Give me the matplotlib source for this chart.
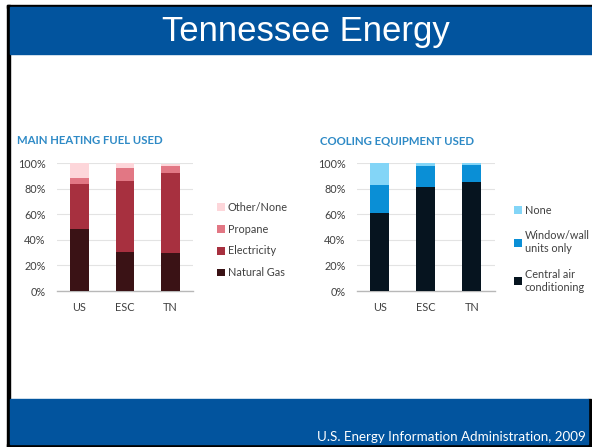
import numpy as np
import matplotlib
matplotlib.use('Agg')
import matplotlib.pyplot as plt
from matplotlib.patches import Rectangle, Patch

# regions
regions = ['US', 'ESC', 'TN']

# main heating fuel (share of homes)
heat_labels = ['Natural Gas', 'Electricity', 'Propane', 'Other/None']
natural_gas = [0.484, 0.307, 0.297]
electricity = [0.349, 0.552, 0.627]
propane = [0.050, 0.104, 0.056]
other_none = [0.117, 0.037, 0.010]
heat_colors = ['#3a1215', '#a7303f', '#e27784', '#fdd6da']

# cooling equipment
cool_labels = ['Central air\nconditioning', 'Window/wall\nunits only', 'None']
central_air = [0.612, 0.815, 0.852]
window_wall = [0.214, 0.159, 0.135]
no_cooling = [0.174, 0.026, 0.013]
cool_colors = ['#06141f', '#0a8fd6', '#83d5f7']

pct_ticks = [0, 0.2, 0.4, 0.6, 0.8, 1.0]
pct_labels = ['0%', '20%', '40%', '60%', '80%', '100%']

W, H = 592, 447
fig = plt.figure(figsize=(W / 100, H / 100), dpi=100)
fig.patch.set_facecolor('white')

BLUE = '#02549e'
# slide frame: black borders and blue header / footer bands
fig.patches.append(Rectangle((7 / W, 0), 3 / W, 1 - 5 / H, transform=fig.transFigure, color='black', zorder=0))
fig.patches.append(Rectangle((7 / W, 1 - 7.5 / H), 1, 2.5 / H, transform=fig.transFigure, color='black', zorder=0))
fig.patches.append(Rectangle((9.5 / W, 1 - 54 / H), 1, 46.5 / H, transform=fig.transFigure, color=BLUE, zorder=1))
fig.patches.append(Rectangle((7 / W, 0), 1, 3 / H, transform=fig.transFigure, color='black', zorder=0))
fig.patches.append(Rectangle((9.5 / W, 3 / H), 578.5 / W, 45 / H, transform=fig.transFigure, color=BLUE, zorder=1))
fig.patches.append(Rectangle((588 / W, 0), 2.5 / W, 48 / H, transform=fig.transFigure, color='black', zorder=0))

fig.text(306 / W, 1 - 31 / H, 'Tennessee Energy', color='white', fontsize=25,
         family='Liberation Sans', ha='center', va='center')
fig.text(586 / W, 1 - 437 / H, 'U.S. Energy Information Administration, 2009', color='white',
         fontsize=9.6, family='Lato', ha='right', va='center')

TXT = '#404040'
TITLE = '#2e8ac6'
FS = 7.8


def stacked(ax, series, colors, labels):
    x = np.arange(len(regions))
    bottom = np.zeros(len(regions))
    handles = []
    for vals, c, lab in zip(series, colors, labels):
        ax.bar(x, vals, width=0.41, bottom=bottom, color=c, zorder=3)
        bottom += np.array(vals)
        handles.append(Patch(facecolor=c, label=lab))
    ax.set_xlim(-0.5, 2.5)
    ax.set_ylim(0, 1.0)
    ax.set_yticks(pct_ticks)
    ax.set_yticklabels(pct_labels)
    ax.set_xticks(x)
    ax.set_xticklabels(regions)
    ax.tick_params(length=0, labelsize=FS, labelcolor=TXT, pad=8)
    for t in ax.get_xticklabels() + ax.get_yticklabels():
        t.set_family('Lato')
    ax.grid(axis='y', color='#e3e3e3', linewidth=0.8, zorder=0)
    for s in ['top', 'right', 'left']:
        ax.spines[s].set_visible(False)
    ax.spines['bottom'].set_color('#b8b8b8')
    ax.spines['bottom'].set_linewidth(1.0)
    ax.set_axisbelow(True)
    return handles[::-1]


ax1 = fig.add_axes([56.7 / W, 1 - 291 / H, 136.3 / W, 128 / H])
h1 = stacked(ax1, [natural_gas, electricity, propane, other_none], heat_colors, heat_labels)
fig.text(17 / W, 1 - 141 / H, 'MAIN HEATING FUEL USED', color=TITLE, fontsize=8.2,
         fontweight='bold', family='Lato', va='center')
ax1.legend(handles=h1, loc='upper left', bbox_to_anchor=(207 / W, 1 - 192 / H),
           bbox_transform=fig.transFigure, frameon=False, prop={'family': 'Lato', 'size': FS},
           labelcolor=TXT, handlelength=0.75, handleheight=0.75, handletextpad=0.25, labelspacing=1.0)

ax2 = fig.add_axes([356.7 / W, 1 - 291 / H, 138.3 / W, 128 / H])
h2 = stacked(ax2, [central_air, window_wall, no_cooling], cool_colors, cool_labels)
fig.text(320 / W, 1 - 141 / H, 'COOLING EQUIPMENT USED', color=TITLE, fontsize=8.2,
         fontweight='bold', family='Lato', va='center')
ax2.legend(handles=h2, loc='upper left', bbox_to_anchor=(504 / W, 1 - 195 / H),
           bbox_transform=fig.transFigure, frameon=False, prop={'family': 'Lato', 'size': FS},
           labelcolor=TXT, handlelength=0.75, handleheight=0.75, handletextpad=0.25, labelspacing=1.35)

fig.savefig('out.png', dpi=100)
